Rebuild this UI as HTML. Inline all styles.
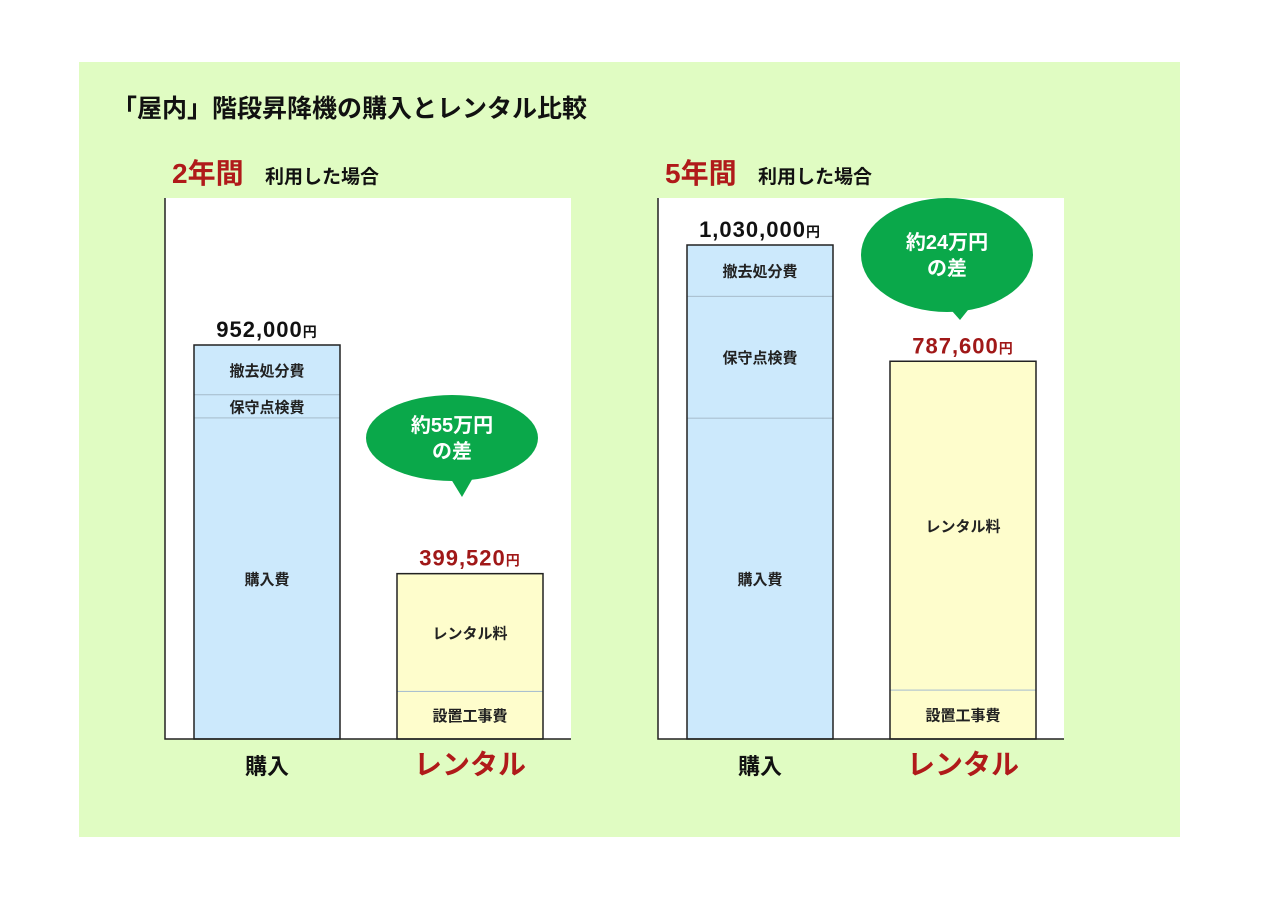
<!DOCTYPE html>
<html><head><meta charset="utf-8"><style>
body{margin:0;width:1280px;height:905px;background:#fff;font-family:"Liberation Sans","Noto Sans CJK JP",sans-serif;}
svg text{font-family:"Liberation Sans","Noto Sans CJK JP",sans-serif;}
</style></head><body>
<svg id="s" width="1280" height="905" xmlns="http://www.w3.org/2000/svg">
<rect x="79" y="62" width="1101" height="775" fill="#e0fcc2"/>
<text x="112" y="117" font-size="25" font-weight="bold" fill="#111">「屋内」階段昇降機の購入とレンタル比較</text>
</svg>
<script>
const panels = ["2年間", "5年間"];
const totalsPurchase = [952000, 1030000];
const totalsRental = [399520, 787600];
const purchaseSegLabels = ["購入費", "保守点検費", "撤去処分費"];
const purchaseSeg2y = [776000, 56000, 120000];
const purchaseSeg5y = [669000, 254000, 107000];
const rentalSegLabels = ["設置工事費", "レンタル料"];
const rentalSeg2y = [115000, 284520];
const rentalSeg5y = [102000, 685600];
const diffLabels = ["約55万円", "約24万円"];
const categories = ["購入", "レンタル"];

const NS = "http://www.w3.org/2000/svg";
const svg = document.getElementById('s');
function mk(tag, attrs, text){const e=document.createElementNS(NS,tag);for(const k in attrs)e.setAttribute(k,attrs[k]);if(text!==undefined)e.textContent=text;svg.appendChild(e);return e;}
function fmt(v){return v.toLocaleString('en-US');}

const layouts = [
 {x0:165, scaleMax:952000, scaleH:394, bubble:{cx:452,cy:438,rx:86,ry:43,tx:462,ty:497}},
 {x0:658, scaleMax:1030000, scaleH:494, bubble:{cx:947,cy:255,rx:86,ry:57,tx:960,ty:320}}
];
const segsP = [purchaseSeg2y, purchaseSeg5y];
const segsR = [rentalSeg2y, rentalSeg5y];
const base = 739;

layouts.forEach((L,i)=>{
  const y = v => v / L.scaleMax * L.scaleH;
  let e;
  e = mk('rect',{x:L.x0,y:198,width:406,height:541,fill:'#fff'});
  
  
  e = mk('text',{x:L.x0+7,y:183,'font-size':28,'font-weight':'bold',fill:'#b01a1a'},panels[i]);
  
  
  e = mk('text',{x:L.x0+100,y:183,'font-size':19,'font-weight':'bold',fill:'#111'},'利用した場合');
  
  
  const bars = [
    {bx:L.x0+29, segs:segsP[i], labels:purchaseSegLabels, fill:'#cce9fc', total:totalsPurchase[i], tcol:'#111'},
    {bx:L.x0+232, segs:segsR[i], labels:rentalSegLabels, fill:'#fefdcc', total:totalsRental[i], tcol:'#a01818'}
  ];
  bars.forEach((B,j)=>{
    let cum=0;
    B.segs.forEach((v,k)=>{
      const top = base - y(cum+v), h = y(v);
      e = mk('rect',{x:B.bx,y:top,width:146,height:h,fill:B.fill,stroke:'#a9bfcf','stroke-width':1});
      
      
      e = mk('text',{x:B.bx+73,y:top+h/2+6,'font-size':15,'font-weight':'bold','text-anchor':'middle',fill:'#222'},B.labels[k]);
      
      
      cum+=v;
    });
    const top = base - y(cum);
    e = mk('rect',{x:B.bx,y:top,width:146,height:y(cum),fill:'none',stroke:'#222','stroke-width':1.5});
    
    
    const t = mk('text',{x:B.bx+73,y:top-8,'font-size':22,'font-weight':'bold','text-anchor':'middle',fill:B.tcol,'letter-spacing':'1'});
    
    
    const t1=document.createElementNS(NS,'tspan');t1.textContent=fmt(B.total);t.appendChild(t1);
    const t2=document.createElementNS(NS,'tspan');t2.setAttribute('font-size','14');t2.textContent='円';t.appendChild(t2);
    e = mk('text',{x:B.bx+73,y:774,'font-size':j?28:22,'font-weight':'bold','text-anchor':'middle',fill:j?'#b01a1a':'#111'},categories[j]);
    
    
  });
  e = mk('path',{d:`M${L.x0} 198 V${base} H${L.x0+406}`,fill:'none',stroke:'#222','stroke-width':1.5});
  
  
  const b=L.bubble;
  e = mk('path',{d:`M${b.tx-16} ${b.cy+b.ry-10} L${b.tx} ${b.ty} L${b.tx+16} ${b.cy+b.ry-12} Z`,fill:'#0aa84a'});
  
  
  e = mk('ellipse',{cx:b.cx,cy:b.cy,rx:b.rx,ry:b.ry,fill:'#0aa84a'});
  
  
  e = mk('text',{x:b.cx,y:b.cy-6,'font-size':20,'font-weight':'bold','text-anchor':'middle',fill:'#fff'},diffLabels[i]);
  
  
  e = mk('text',{x:b.cx,y:b.cy+20,'font-size':20,'font-weight':'bold','text-anchor':'middle',fill:'#fff'},'の差');
  
  
});
</script>
</body></html>
